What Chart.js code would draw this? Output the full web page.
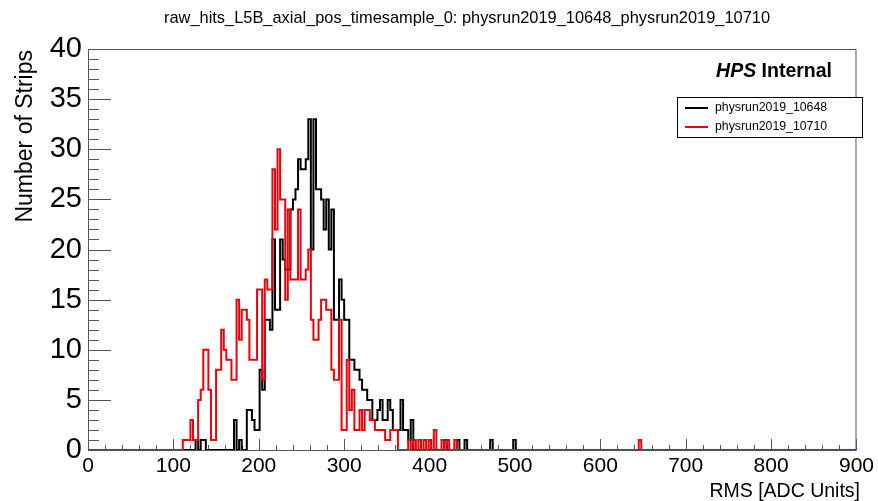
<!DOCTYPE html>
<html>
<head>
<meta charset="utf-8">
<script src="https://cdn.jsdelivr.net/npm/chart.js@4.4.0/dist/chart.umd.min.js"></script>
<style>
  body { margin: 0; background: #fff; }
  canvas { display: block; }
</style>
</head>
<body>
<canvas id="rmsChart" width="878" height="501"></canvas>
<script>
// histogram binning: 300 bins of 3 ADC units between 0 and 900
const binWidth = 3;
const xMin = 0;
const xMax = 900;
const xTicks = [0, 100, 200, 300, 400, 500, 600, 700, 800, 900];
const yTicks = [0, 5, 10, 15, 20, 25, 30, 35, 40];

const seriesNames = ['physrun2019_10648', 'physrun2019_10710'];

// run 10648 (black), contiguous bins starting at bin 42
const blackStart = 42;
const blackCounts = [
  1, 0, 1, 1, 0, 0, 0, 0, 0, 0,
  0, 0, 0, 0, 0, 3, 0, 1, 0, 0,
  4, 4, 3, 2, 2, 8, 6, 13, 13, 12,
  21, 14, 14, 21, 19, 18, 18, 24, 25, 26,
  29, 28, 28, 29, 33, 20, 33, 26, 26, 25,
  22, 25, 20, 24, 13, 13, 17, 15, 13, 13,
  9, 9, 8, 8, 7, 6, 6, 5, 5, 3,
  3, 4, 5, 3, 3, 5, 4, 2, 2, 2,
  5, 2, 2, 1, 3
];
const blackTailBins = [139, 144, 147, 157, 166];
const blackTailCounts = [1, 1, 1, 1, 1];

// run 10710 (red), contiguous bins starting at bin 37
const redStart = 37;
const redCounts = [
  1, 1, 1, 3, 1, 1, 5, 6, 10, 10,
  6, 1, 1, 8, 8, 12, 10, 9, 9, 7,
  7, 15, 11, 14, 14, 13, 9, 9, 9, 16,
  16, 7, 17, 16, 16, 28, 22, 30, 25, 25,
  15, 24, 17, 17, 17, 24, 17, 17, 18, 20,
  13, 11, 11, 13, 15, 15, 14, 14, 8, 7,
  7, 13, 2, 2, 9, 4, 6, 2, 2, 4,
  2, 4, 4, 3, 3, 2, 2, 2, 2, 1,
  1, 2, 2, 2, 0, 0, 0, 0, 1, 0,
  1, 0, 1, 0, 1, 0, 1, 0, 2, 0,
  0, 1, 0, 1, 0, 0, 1
];
const redTailBins = [215];
const redTailCounts = [1];

// turn bin lists into step points (value holds from the bin's left edge)
function histPoints(start, counts, tailBins, tailCounts) {
  const pts = [{ x: xMin, y: 0 }];
  counts.forEach((c, i) => pts.push({ x: (start + i) * binWidth, y: c }));
  pts.push({ x: (start + counts.length) * binWidth, y: 0 });
  tailBins.forEach((b, i) => {
    pts.push({ x: b * binWidth, y: tailCounts[i] });
    pts.push({ x: (b + 1) * binWidth, y: 0 });
  });
  pts.push({ x: xMax, y: 0 });
  return pts;
}

const FONT = "'Liberation Sans', Arial, Helvetica, sans-serif";
const BLACK = '#000000';
const RED = '#e8000b';

// ROOT-like frame, inward ticks, title, labels and legend
const rootStyle = {
  id: 'rootStyle',
  beforeDraw(chart) {
    const c = chart.ctx;
    c.save();
    c.fillStyle = '#fff';
    c.fillRect(0, 0, chart.width, chart.height);
    c.restore();
  },
  beforeDatasetsDraw(chart) {
    const c = chart.ctx;
    const a = chart.chartArea;
    const xs = chart.scales.x, ys = chart.scales.y;
    c.save();
    c.strokeStyle = '#555';
    c.lineWidth = 1;
    c.strokeRect(a.left + 0.5, a.top + 0.5, a.right - a.left - 1, a.bottom - a.top);
    c.beginPath();
    for (let v = 0; v <= 40; v++) {
      const y = Math.round(ys.getPixelForValue(v)) + 0.5;
      const len = v % 5 === 0 ? 23 : 11;
      c.moveTo(a.left, y);
      c.lineTo(a.left + len, y);
    }
    for (let v = 0; v <= 900; v += 20) {
      const x = Math.round(xs.getPixelForValue(v)) + 0.5;
      const len = v % 100 === 0 ? 11 : 5;
      c.moveTo(x, a.bottom);
      c.lineTo(x, a.bottom - len);
    }
    c.stroke();
    c.restore();
  },
  afterDraw(chart) {
    const c = chart.ctx;
    c.save();
    c.fillStyle = '#000';
    // title
    c.font = '16.4px ' + FONT;
    c.textAlign = 'center';
    c.textBaseline = 'middle';
    c.fillText('raw_hits_L5B_axial_pos_timesample_0: physrun2019_10648_physrun2019_10710', 467, 18);
    // axis titles
    c.font = '19.5px ' + FONT;
    c.textAlign = 'right';
    c.textBaseline = 'alphabetic';
    c.fillText('RMS [ADC Units]', 860, 497);
    c.save();
    c.font = '23px ' + FONT;
    c.translate(32, 50);
    c.rotate(-Math.PI / 2);
    c.textAlign = 'right';
    c.fillText('Number of Strips', 0, 0);
    c.restore();
    // HPS Internal
    c.textAlign = 'left';
    c.font = 'bold 19.5px ' + FONT;
    const wInt = c.measureText(' Internal').width;
    c.font = 'italic bold 19.5px ' + FONT;
    const wHps = c.measureText('HPS').width;
    const x0 = 832 - wInt - wHps;
    c.fillText('HPS', x0, 77);
    c.font = 'bold 19.5px ' + FONT;
    c.fillText(' Internal', x0 + wHps, 77);
    // legend
    c.fillStyle = '#fff';
    c.fillRect(677, 97, 185, 40);
    c.strokeStyle = '#000';
    c.lineWidth = 1;
    c.strokeRect(677.5, 97.5, 185, 40);
    const colors = [BLACK, RED];
    c.font = '12.3px ' + FONT;
    c.textBaseline = 'middle';
    seriesNames.forEach((name, i) => {
      const y = 108 + i * 19;
      c.strokeStyle = colors[i];
      c.lineWidth = 2;
      c.beginPath();
      c.moveTo(685, y);
      c.lineTo(708, y);
      c.stroke();
      c.fillStyle = '#000';
      c.fillText(name, 715, y);
    });
    c.restore();
  }
};

const ctx = document.getElementById('rmsChart').getContext('2d');
const rmsChart = new Chart(ctx, {
  type: 'line',
  data: {
    datasets: [
      {
        label: seriesNames[0],
        data: histPoints(blackStart, blackCounts, blackTailBins, blackTailCounts),
        borderColor: BLACK,
        borderWidth: 2,
        stepped: true,
        pointRadius: 0,
        fill: false,
        order: 2
      },
      {
        label: seriesNames[1],
        data: histPoints(redStart, redCounts, redTailBins, redTailCounts),
        borderColor: RED,
        borderWidth: 2,
        stepped: true,
        pointRadius: 0,
        fill: false,
        order: 1
      }
    ]
  },
  options: {
    responsive: false,
    animation: false,
    events: [],
    layout: { padding: { top: 49, right: 18, left: 0, bottom: 0 } },
    scales: {
      x: {
        type: 'linear',
        min: xMin,
        max: xMax,
        afterBuildTicks: s => { s.ticks = xTicks.map(v => ({ value: v })); },
        afterFit: s => { s.height = 51; },
        grid: { display: false, drawTicks: false },
        border: { display: false },
        ticks: { color: '#000', font: { family: FONT, size: 21 }, padding: 4, maxRotation: 0, autoSkip: false }
      },
      y: {
        type: 'linear',
        min: 0,
        max: 40,
        afterBuildTicks: s => { s.ticks = yTicks.map(v => ({ value: v })); },
        afterFit: s => { s.width = 88; },
        grid: { display: false, drawTicks: false },
        border: { display: false },
        ticks: { color: '#000', font: { family: FONT, size: 29 }, padding: 6, autoSkip: false }
      }
    },
    plugins: {
      legend: { display: false },
      tooltip: { enabled: false }
    }
  },
  plugins: [rootStyle]
});
</script>
</body>
</html>
